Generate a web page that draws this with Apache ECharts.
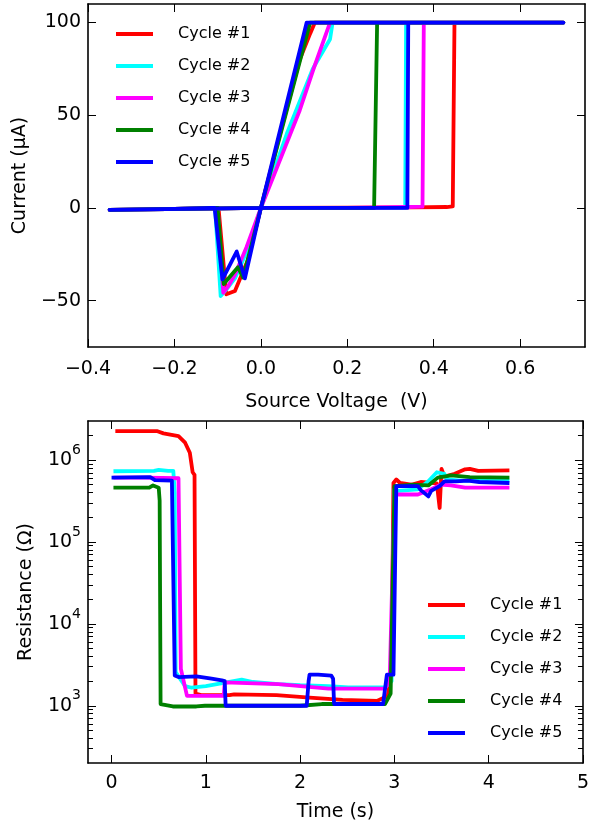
<!doctype html>
<html>
<head>
<meta charset="utf-8">
<title>I-V and R-t cycles</title>
<script src="https://cdn.jsdelivr.net/npm/echarts@6/dist/echarts.min.js"></script>
<style>
  html, body { margin: 0; padding: 0; background: #fff; }
  #main { width: 592px; height: 823px; }
</style>
</head>
<body>
<div id="main"></div>
<script type="text/javascript">
// ---- data ----
var names = ['Cycle #1', 'Cycle #2', 'Cycle #3', 'Cycle #4', 'Cycle #5'];
var colors = ['#ff0000', '#00ffff', '#ff00ff', '#008000', '#0000ff'];

// top: current (uA) vs source voltage (V)
var v1 = [0, 0.2, 0.35, 0.43, 0.444, 0.448, 0.7, 0.125, 0.114, 0.09, 0.05, 0, -0.03, -0.06, -0.08, -0.098, -0.2, -0.35, 0];
var i1 = [0, 0.1, 0.3, 0.5, 0.8, 100, 100, 100, 94, 80, 45, 0, -28, -44.8, -46.6, 0, -0.5, -1, 0];
var v2 = [0, 0.2, 0.334, 0.336, 0.7, 0.166, 0.16, 0.12, 0.06, 0, -0.03, -0.06, -0.08, -0.093, -0.106, -0.2, -0.35, 0];
var i2 = [0, 0, 0.2, 100, 100, 100, 91, 75, 40, 0, -22, -38, -44, -47.5, 0, -0.5, -1, 0];
var v3 = [0, 0.2, 0.34, 0.374, 0.377, 0.7, 0.16, 0.121, 0.09, 0, -0.033, -0.06, -0.075, -0.087, -0.1, -0.2, -0.35, 0];
var i3 = [0, 0, 0.5, 0.7, 100, 100, 100, 74.4, 52.7, 0, -21, -36, -42, -45.7, 0, -0.5, -1, 0];
var v4 = [0, 0.2, 0.262, 0.269, 0.7, 0.114, 0, -0.041, -0.053, -0.086, -0.1, -0.2, -0.35, 0];
var i4 = [0, 0, 0, 100, 100, 100, 0, -37.6, -32, -41, 0, -0.5, -1, 0];
var v5 = [0, 0.2, 0.339, 0.341, 0.7, 0.106, 0, -0.037, -0.056, -0.089, -0.107, -0.2, -0.35, 0];
var i5 = [0, 0, 0, 100, 100, 100, 0, -38, -23.5, -38.5, 0, -0.5, -1, 0];

// bottom: resistance (ohm) vs time (s)
var t1 = [0.04, 0.48, 0.55, 0.71, 0.78, 0.83, 0.86, 0.88, 0.89, 0.95, 1.25, 1.3, 1.75, 2.1, 2.45, 2.82, 2.93, 2.97, 2.99, 3.02, 3.06, 3.18, 3.28, 3.45, 3.48, 3.5, 3.53, 3.64, 3.75, 3.8, 3.89, 4.22];
var r1 = [2.26e6, 2.26e6, 2.12e6, 1.96e6, 1.63e6, 1.23e6, 7.1e5, 6.6e5, 1410, 1350, 1350, 1380, 1350, 1260, 1180, 1150, 1320, 3200, 5.25e5, 5.8e5, 5.25e5, 5.0e5, 5.4e5, 5.2e5, 2.6e5, 7.8e5, 6.3e5, 6.8e5, 7.7e5, 7.8e5, 7.4e5, 7.5e5];
var t2 = [0.02, 0.45, 0.5, 0.6, 0.655, 0.67, 0.68, 0.78, 0.85, 1.0, 1.38, 1.5, 1.77, 2.0, 2.3, 2.51, 2.9, 2.97, 3.0, 3.04, 3.25, 3.36, 3.45, 3.53, 3.56, 3.7, 4.22];
var r2 = [7.3e5, 7.4e5, 7.6e5, 7.4e5, 7.4e5, 4.0e5, 2570, 1740, 1660, 1740, 2090, 1950, 1840, 1780, 1740, 1680, 1680, 2000, 4.4e5, 4.2e5, 4.4e5, 5.5e5, 7.1e5, 6.8e5, 5.8e5, 5.6e5, 5.6e5];
var t3 = [0.02, 0.36, 0.71, 0.73, 0.735, 0.8, 0.85, 1.19, 1.2, 1.6, 1.77, 2.3, 2.9, 2.95, 3.0, 3.04, 3.25, 3.39, 3.49, 3.6, 3.75, 4.22];
var r3 = [6.1e5, 6.1e5, 6.0e5, 6.3e5, 2820, 1320, 1320, 1320, 1930, 1860, 1840, 1620, 1620, 2000, 3.8e5, 3.8e5, 3.8e5, 4.4e5, 5.0e5, 4.9e5, 4.6e5, 4.6e5];
var t4 = [0.02, 0.40, 0.44, 0.5, 0.51, 0.52, 0.54, 0.65, 0.9, 0.99, 1.5, 2.0, 2.23, 2.5, 2.9, 2.96, 3.0, 3.2, 3.36, 3.46, 3.6, 3.8, 4.22];
var r4 = [4.6e5, 4.6e5, 4.9e5, 4.6e5, 3.2e5, 1050, 1000, 980, 980, 1000, 1000, 1000, 1050, 1050, 1050, 1410, 4.8e5, 5.0e5, 4.9e5, 6.1e5, 6.5e5, 6.2e5, 6.1e5];
var t5 = [0.0, 0.41, 0.46, 0.64, 0.66, 0.67, 0.71, 0.9, 1.06, 1.17, 1.2, 1.21, 1.5, 1.77, 2.07, 2.09, 2.1, 2.19, 2.2, 2.33, 2.35, 2.36, 2.88, 2.92, 2.99, 3.02, 3.25, 3.28, 3.36, 3.39, 3.48, 3.53, 3.65, 3.78, 3.9, 4.22];
var r5 = [6.1e5, 6.2e5, 5.7e5, 5.6e5, 5.5e5, 2340, 2240, 2290, 2140, 2040, 2000, 1000, 1000, 1000, 1000, 2000, 2400, 2400, 2510, 2340, 2140, 1050, 1050, 2400, 2400, 4.8e5, 4.8e5, 4.3e5, 3.6e5, 4.2e5, 4.8e5, 5.5e5, 5.5e5, 5.6e5, 5.4e5, 5.25e5];

// tick values
var vTicks = [-0.4, -0.2, 0, 0.2, 0.4, 0.6];
var iTicks = [-50, 0, 50, 100];
var tTicks = [0, 1, 2, 3, 4, 5];
var rMajor = [1e3, 1e4, 1e5, 1e6];
var rMinor = [300, 400, 500, 600, 700, 800, 900,
    2e3, 3e3, 4e3, 5e3, 6e3, 7e3, 8e3, 9e3,
    2e4, 3e4, 4e4, 5e4, 6e4, 7e4, 8e4, 9e4,
    2e5, 3e5, 4e5, 5e5, 6e5, 7e5, 8e5, 9e5,
    2e6];

var ivSets = [[v1, i1], [v2, i2], [v3, i3], [v4, i4], [v5, i5]];
var rtSets = [[t1, r1], [t2, r2], [t3, r3], [t4, r4], [t5, r5]];

function pairs(xs, ys) {
    var out = [];
    for (var k = 0; k < xs.length; k++) out.push([xs[k], ys[k]]);
    return out;
}
function minus(s) { return String(s).replace('-', '\u2212'); }

var FONT = 'DejaVu Sans';
var lineStyle = { color: '#000', width: 1.6 };
var labelStyle = { color: '#000', fontSize: 19, fontFamily: FONT };

function tickAxis(extra) {
    var base = {
        scale: true,
        splitLine: { show: false },
        axisLine: { show: true, onZero: false, lineStyle: lineStyle },
        axisTick: { show: true, inside: true, length: 8, lineStyle: { color: '#000', width: 1 } },
        axisLabel: { show: false }
    };
    for (var k in extra) base[k] = extra[k];
    return base;
}

var chart = echarts.init(document.getElementById('main'));

var series = [];
for (var n = 0; n < 5; n++) {
    series.push({
        name: names[n], type: 'line', xAxisIndex: 0, yAxisIndex: 0,
        data: pairs(ivSets[n][0], ivSets[n][1]),
        showSymbol: false, symbol: 'none', z: 2 + n,
        lineStyle: { color: colors[n], width: 3.8, join: 'round' },
        itemStyle: { color: colors[n] }
    });
}
for (var n = 0; n < 5; n++) {
    series.push({
        name: names[n], type: 'line', xAxisIndex: 2, yAxisIndex: 2,
        data: pairs(rtSets[n][0], rtSets[n][1]),
        showSymbol: false, symbol: 'none', z: 2 + n,
        lineStyle: { color: colors[n], width: 3.8, join: 'round' },
        itemStyle: { color: colors[n] }
    });
}

var legendBase = {
    orient: 'vertical', padding: 0, itemWidth: 37, itemHeight: 4, itemGap: 16,
    icon: 'rect', data: names,
    textStyle: { color: '#000', fontSize: 16, fontFamily: FONT, padding: [0, 0, 0, 20] }
};
function legendAt(left, top) {
    var l = {};
    for (var k in legendBase) l[k] = legendBase[k];
    l.left = left; l.top = top;
    return l;
}

var option = {
    animation: false,
    backgroundColor: '#fff',
    legend: [legendAt(116, 26), legendAt(428, 597)],
    grid: [
        { left: 88, top: 4, width: 497, height: 343, containLabel: false },
        { left: 88, top: 421, width: 497, height: 344, containLabel: false }
    ],
    xAxis: [
        tickAxis({
            type: 'value', gridIndex: 0, position: 'bottom', min: -0.4, max: 0.75,
            axisTick: { show: true, inside: true, length: 8, customValues: vTicks, lineStyle: { color: '#000', width: 1 } },
            axisLabel: { show: true, customValues: vTicks, margin: 13, formatter: function (v) { return minus(v.toFixed(1)); }, color: '#000', fontSize: 19, fontFamily: FONT },
            name: 'Source Voltage  (V)', nameLocation: 'middle', nameGap: 46, nameTextStyle: labelStyle
        }),
        tickAxis({
            type: 'value', gridIndex: 0, position: 'top', min: -0.4, max: 0.75,
            axisTick: { show: true, inside: true, length: 8, customValues: vTicks, lineStyle: { color: '#000', width: 1 } }
        }),
        tickAxis({
            type: 'value', gridIndex: 1, position: 'bottom', min: -0.25, max: 5,
            axisTick: { show: true, inside: true, length: 8, customValues: tTicks, lineStyle: { color: '#000', width: 1 } },
            axisLabel: { show: true, customValues: tTicks, margin: 11, formatter: function (v) { return String(v); }, color: '#000', fontSize: 19, fontFamily: FONT },
            name: 'Time (s)', nameLocation: 'middle', nameGap: 40, nameTextStyle: labelStyle
        }),
        tickAxis({
            type: 'value', gridIndex: 1, position: 'top', min: -0.25, max: 5,
            axisTick: { show: true, inside: true, length: 8, customValues: tTicks, lineStyle: { color: '#000', width: 1 } }
        })
    ],
    yAxis: [
        tickAxis({
            type: 'value', gridIndex: 0, position: 'left', min: -75, max: 110,
            axisTick: { show: true, inside: true, length: 8, customValues: iTicks, lineStyle: { color: '#000', width: 1 } },
            axisLabel: { show: true, customValues: iTicks, margin: 7, formatter: function (v) { return minus(v); }, color: '#000', fontSize: 19, fontFamily: FONT },
            name: 'Current (\u03bcA)', nameLocation: 'middle', nameGap: 52, nameTextStyle: labelStyle
        }),
        tickAxis({
            type: 'value', gridIndex: 0, position: 'right', min: -75, max: 110,
            axisTick: { show: true, inside: true, length: 8, customValues: iTicks, lineStyle: { color: '#000', width: 1 } }
        }),
        tickAxis({
            type: 'log', logBase: 10, gridIndex: 1, position: 'left', min: 200, max: 3e6,
            axisTick: { show: true, inside: true, length: 8, customValues: rMajor, lineStyle: { color: '#000', width: 1 } },
            axisLabel: {
                show: true, customValues: rMajor, margin: 7,
                formatter: function (v) { return '{b|10}{s|' + Math.round(Math.log10(v)) + '}'; },
                rich: {
                    b: { color: '#000', fontSize: 19, lineHeight: 20, fontFamily: FONT },
                    s: { color: '#000', fontSize: 14, lineHeight: 14, fontFamily: FONT, padding: [0, 0, 20, 0] }
                }
            },
            name: 'Resistance (\u03a9)', nameLocation: 'middle', nameGap: 52, nameTextStyle: labelStyle
        }),
        tickAxis({
            type: 'log', logBase: 10, gridIndex: 1, position: 'right', min: 200, max: 3e6,
            axisTick: { show: true, inside: true, length: 8, customValues: rMajor, lineStyle: { color: '#000', width: 1 } }
        }),
        tickAxis({
            type: 'log', logBase: 10, gridIndex: 1, position: 'left', min: 200, max: 3e6,
            axisLine: { show: false, onZero: false },
            axisTick: { show: true, inside: true, length: 5, customValues: rMinor, lineStyle: { color: '#000', width: 1 } }
        }),
        tickAxis({
            type: 'log', logBase: 10, gridIndex: 1, position: 'right', min: 200, max: 3e6,
            axisLine: { show: false, onZero: false },
            axisTick: { show: true, inside: true, length: 5, customValues: rMinor, lineStyle: { color: '#000', width: 1 } }
        })
    ],
    series: series
};
chart.setOption(option);
</script>
</body>
</html>
